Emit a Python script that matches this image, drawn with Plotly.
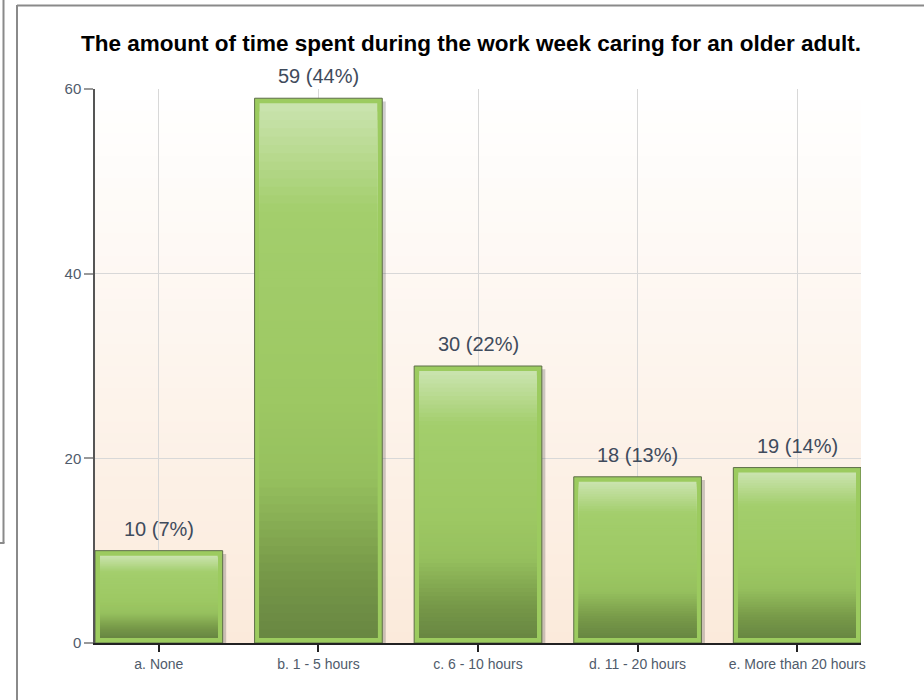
import plotly.graph_objects as go

categories = ["a. None", "b. 1 - 5 hours", "c. 6 - 10 hours", "d. 11 - 20 hours", "e. More than 20 hours"]
counts = [10, 59, 30, 18, 19]
percents = [7, 44, 22, 13, 14]
y_ticks = [0, 20, 40, 60]
title_text = "The amount of time spent during the work week caring for an older adult."

W, H = 924, 700
L, R, T, B = 95, 63, 89, 57
plot_w = W - L - R
plot_h = H - T - B

BAR_W = 0.8
inset_px = 5
inset_x = inset_px / (plot_w / 4.8)
inset_y = inset_px / (plot_h / 60)


def lerp(c1, c2, t):
    return tuple(round(a + (b - a) * t) for a, b in zip(c1, c2))


def grad_color(h):
    stops = [(0.0, (104, 134, 66)), (0.12, (118, 152, 72)), (0.3, (150, 192, 94)),
             (0.45, (157, 200, 99)), (0.8, (163, 206, 108)), (1.0, (203, 228, 176))]
    for (h0, c0), (h1, c1) in zip(stops, stops[1:]):
        if h0 <= h <= h1:
            return "rgb(%d,%d,%d)" % lerp(c0, c1, (h - h0) / (h1 - h0))
    return "rgb(%d,%d,%d)" % stops[-1][1]


fig = go.Figure()

# shadow
fig.add_trace(go.Bar(
    x=list(range(len(categories))), y=[v + 0.45 for v in counts], base=-0.8,
    width=BAR_W, offset=-BAR_W / 2 + 0.022,
    marker=dict(color="rgba(60,60,60,0.25)", line=dict(width=0)),
    hoverinfo="skip", showlegend=False))

# main bar (border colour)
fig.add_trace(go.Bar(
    x=list(range(len(categories))), y=counts, width=BAR_W,
    marker=dict(color="#9ccb5f", line=dict(color="#5d6e48", width=1)),
    showlegend=False))

# gradient fill inside bar
N = 64
for k in range(N):
    f = 1 - k / N
    mid = 1 - (k + 0.5) / N
    fig.add_trace(go.Bar(
        x=list(range(len(categories))),
        y=[(v - 2 * inset_y) * f for v in counts], base=inset_y,
        width=BAR_W - 2 * inset_x,
        marker=dict(color=grad_color(mid), line=dict(width=0)),
        hoverinfo="skip", showlegend=False))

# data labels
for i, (v, p) in enumerate(zip(counts, percents)):
    fig.add_annotation(x=i, y=v, text=f"{v} ({p}%)", showarrow=False,
                       yanchor="middle", yshift=22,
                       font=dict(family="Liberation Sans, Arial", size=20, color="#3f4b5c"))

# plot background gradient
shapes = []
NB = 50
for k in range(NB):
    t = k / NB
    c = lerp((255, 255, 255), (251, 234, 219), 1 - (k + 0.5) / NB)
    shapes.append(dict(type="rect", xref="paper", yref="paper",
                       x0=0, x1=1, y0=t, y1=t + 1 / NB + 0.002,
                       fillcolor="rgb(%d,%d,%d)" % c, line=dict(width=0), layer="below"))


def px_x(px):
    return (px - L) / plot_w


def px_y(py):
    return (H - B - py) / plot_h


frame = "#8a8a8a"
shapes += [
    dict(type="line", xref="paper", yref="paper", x0=px_x(3.5), x1=px_x(3.5), y0=px_y(-5), y1=px_y(543),
         line=dict(color=frame, width=2), layer="above"),
    dict(type="line", xref="paper", yref="paper", x0=px_x(-2), x1=px_x(4.5), y0=px_y(543), y1=px_y(543),
         line=dict(color=frame, width=2), layer="above"),
    dict(type="line", xref="paper", yref="paper", x0=px_x(17), x1=px_x(17), y0=px_y(5), y1=px_y(705),
         line=dict(color=frame, width=2), layer="above"),
    dict(type="line", xref="paper", yref="paper", x0=px_x(17), x1=px_x(930), y0=px_y(5.5), y1=px_y(5.5),
         line=dict(color=frame, width=2), layer="above"),
]

fig.update_layout(
    width=W, height=H,
    margin=dict(l=L, r=R, t=T, b=B),
    barmode="overlay", bargap=0.2,
    paper_bgcolor="white", plot_bgcolor="rgba(0,0,0,0)",
    shapes=shapes,
    font=dict(family="Liberation Sans, Arial", color="#4f5b6b"),
    title=dict(text="<b>" + title_text + "</b>", x=471 / W, xanchor="center",
               y=1 - 43 / H, yanchor="middle",
               font=dict(family="Liberation Sans, Arial", size=22.5, color="#000000")),
)

fig.update_xaxes(
    tickmode="array", tickvals=list(range(len(categories))), ticktext=categories,
    range=[-0.4, 4.4], showgrid=True, gridcolor="#d8d8d8", gridwidth=1,
    ticks="outside", ticklen=7, tickcolor="#222222", tickwidth=1.5,
    showline=True, linecolor="#222222", linewidth=1.5,
    tickfont=dict(size=14, color="#4f5b6b"), zeroline=False,
)
fig.update_yaxes(
    range=[0, 60], tickmode="array", tickvals=y_ticks,
    showgrid=True, gridcolor="#d8d8d8", gridwidth=1,
    ticks="outside", ticklen=9, tickcolor="#999999", tickwidth=1.5,
    showline=True, linecolor="#555555", linewidth=1.5,
    tickfont=dict(size=15, color="#4f5b6b"), zeroline=False,
)

fig.write_html("out.html", config={"displayModeBar": False},
               post_script="document.body.style.margin='0px';")
